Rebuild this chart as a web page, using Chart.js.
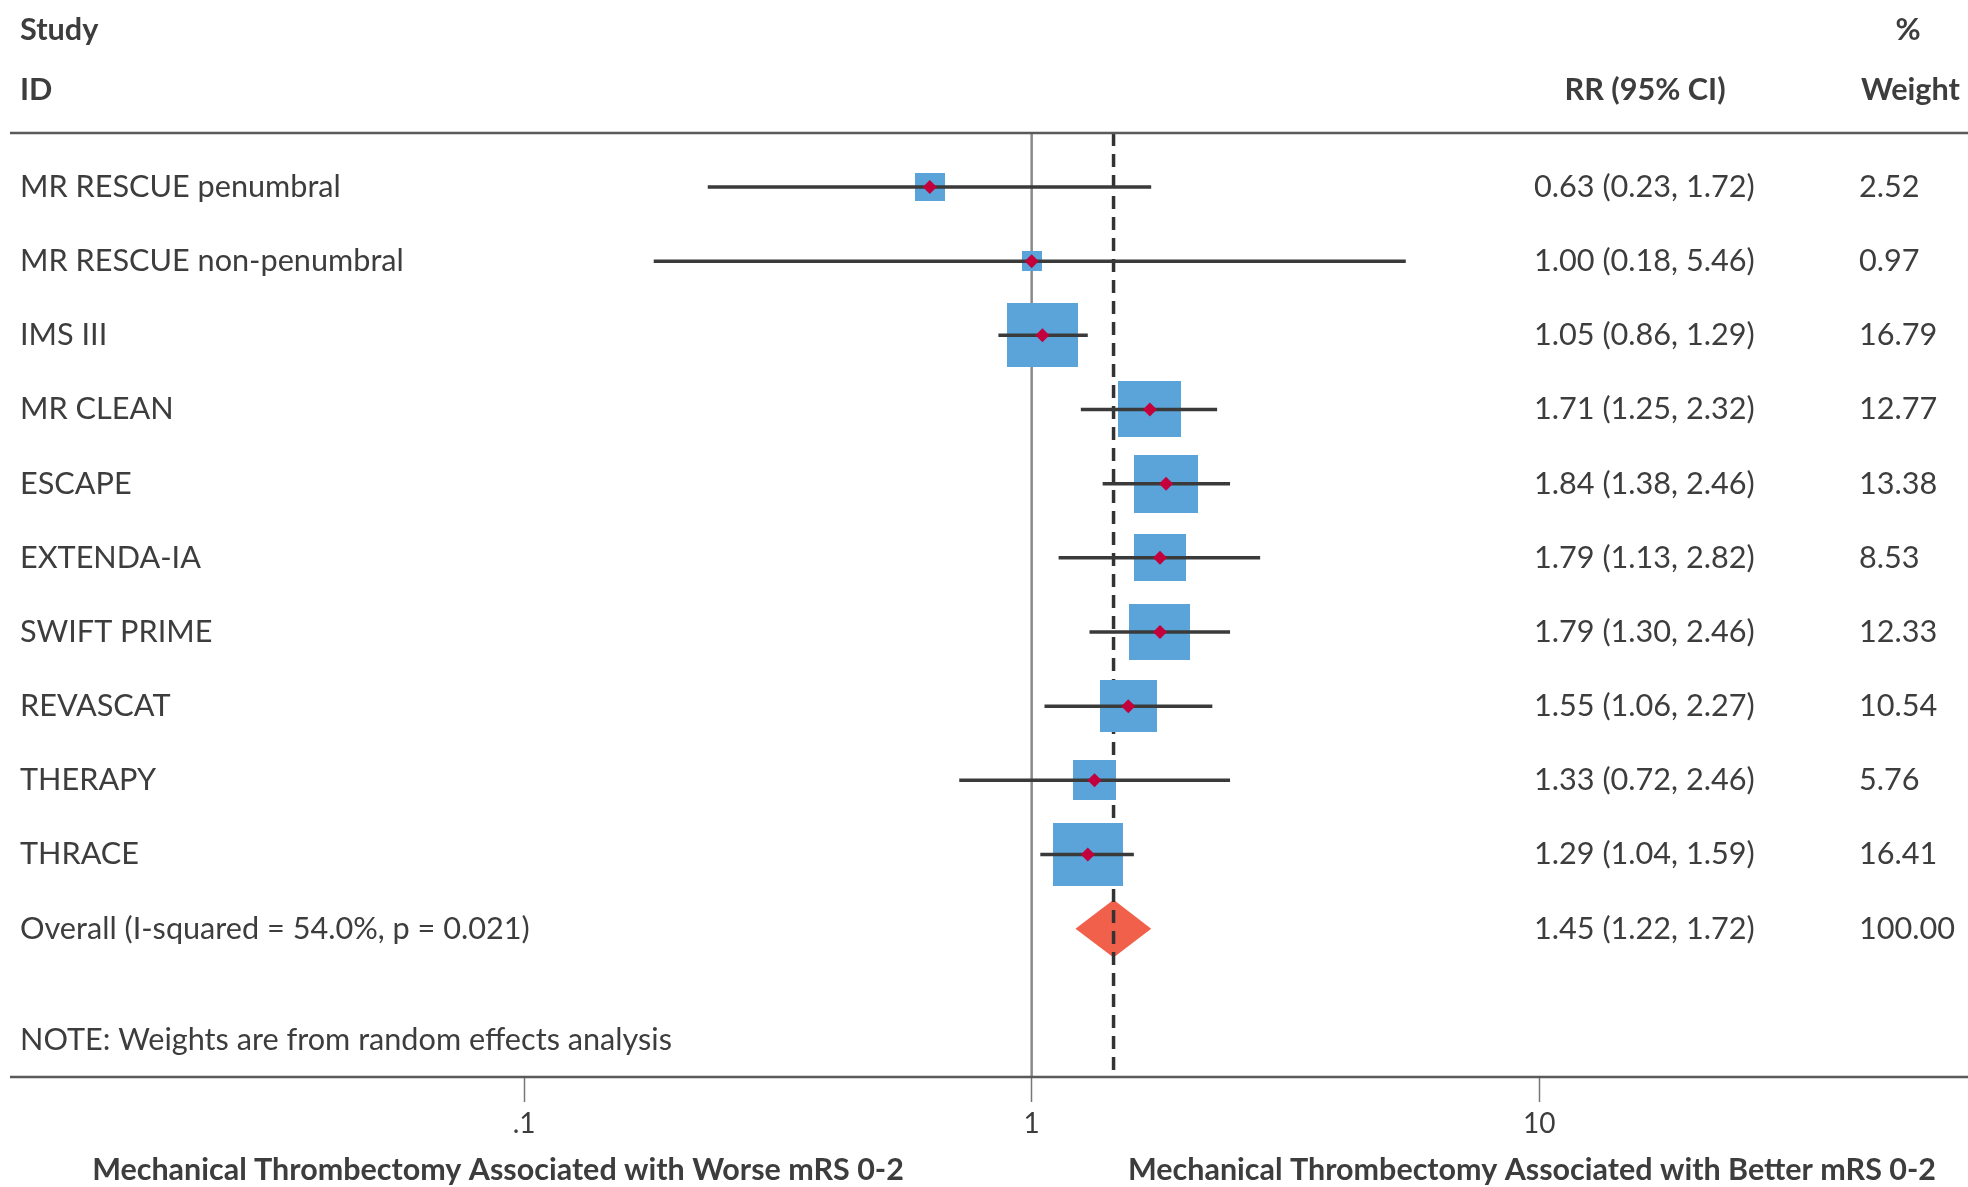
<!DOCTYPE html>
<html>
<head>
<meta charset="utf-8">
<script src="https://cdn.jsdelivr.net/npm/chart.js@4.4.1/dist/chart.umd.min.js"></script>
<style>
  html, body { margin: 0; padding: 0; background: #fff; overflow: hidden; }
  #wrap { position: relative; width: 1968px; height: 1187px; }
</style>
</head>
<body>
<div id="wrap"><canvas id="forest" width="1968" height="1187"></canvas></div>
<script>
// ─────────────────────────────────────────
// DATA
// ─────────────────────────────────────────

const studies = [
  'MR RESCUE penumbral',
  'MR RESCUE non-penumbral',
  'IMS III',
  'MR CLEAN',
  'ESCAPE',
  'EXTENDA-IA',
  'SWIFT PRIME',
  'REVASCAT',
  'THERAPY',
  'THRACE',
];
const rr     = [0.63, 1.00, 1.05, 1.71, 1.84, 1.79, 1.79, 1.55, 1.33, 1.29];
const ciLow  = [0.23, 0.18, 0.86, 1.25, 1.38, 1.13, 1.30, 1.06, 0.72, 1.04];
const ciHigh = [1.72, 5.46, 1.29, 2.32, 2.46, 2.82, 2.46, 2.27, 2.46, 1.59];
const weights = [2.52, 0.97, 16.79, 12.77, 13.38, 8.53, 12.33, 10.54, 5.76, 16.41];

const overallLabel = 'Overall (I-squared = 54.0%, p = 0.021)';
const overallRR = 1.45;
const overallLow = 1.22;
const overallHigh = 1.72;
const overallWeight = 100.00;

const xTicks = [0.1, 1, 10];
const xTickLabels = ['.1', '1', '10'];

const noteText = 'NOTE: Weights are from random effects analysis';
const leftTitle = 'Mechanical Thrombectomy Associated with Worse mRS 0-2';
const rightTitle = 'Mechanical Thrombectomy Associated with Better mRS 0-2';

// ─────────────────────────────────────────
// STYLE
// ─────────────────────────────────────────

const TEXT = '#3d3d3d';
const RULE = '#5a5a5a';
const BOX_BLUE = '#5BA4D9';
const POINT_RED = '#C3003C';
const DIAMOND = '#F0604A';
const Y_MIN = -0.728, Y_MAX = 12.0;
const DIAMOND_HALF = 0.39;

function hasFont(name) {
  const c = document.createElement('canvas').getContext('2d');
  const s = 'MR RESCUE non-penumbral 0123';
  c.font = '40px monospace';
  const a = c.measureText(s).width;
  c.font = `40px "${name}", monospace`;
  return c.measureText(s).width !== a;
}
const FONT = ['Lato', 'Open Sans', 'Noto Sans'].find(hasFont) || 'sans-serif';

// pick sizes so text widths match the reference
function fitSize(text, target, weight) {
  const c = document.createElement('canvas').getContext('2d');
  c.font = `${weight} 100px "${FONT}"`;
  return Math.min(32, 100 * target / c.measureText(text).width);
}
const BODY = fitSize('MR RESCUE non-penumbral', 384, 'normal');
const TITLE = fitSize(leftTitle, 812, 'bold');

// blue boxes, size from the study weight
function boxImage(w) {
  const c = document.createElement('canvas');
  c.width = Math.round(3.9 + 16.4 * Math.sqrt(w));
  c.height = Math.round(6 + 14.1 * Math.sqrt(w));
  const g = c.getContext('2d');
  g.fillStyle = BOX_BLUE;
  g.fillRect(0, 0, c.width, c.height);
  return c;
}

const ciPoints = [];
rr.forEach((v, i) => {
  ciPoints.push({ x: ciLow[i], y: i }, { x: ciHigh[i], y: i }, { x: ciHigh[i], y: null });
});

// ─────────────────────────────────────────
// TEXT PLUGIN
// ─────────────────────────────────────────

const tablePlugin = {
  id: 'table',
  afterDraw(chart) {
    const { ctx, chartArea, scales } = chart;
    const y = scales.y;
    ctx.save();
    ctx.fillStyle = TEXT;
    ctx.textBaseline = 'middle';

    // header
    ctx.font = `bold ${BODY}px "${FONT}"`;
    ctx.textAlign = 'left';
    ctx.fillText('Study', 20, 30);
    ctx.fillText('ID', 20, 90);
    ctx.textAlign = 'center';
    ctx.fillText('%', 1908, 30);
    ctx.fillText('RR (95% CI)', 1645, 90);
    ctx.textAlign = 'right';
    ctx.fillText('Weight', 1960, 90);

    // header rule and axis rule
    ctx.strokeStyle = RULE;
    ctx.lineWidth = 2.5;
    ctx.beginPath();
    ctx.moveTo(10, chartArea.top);
    ctx.lineTo(1968, chartArea.top);
    ctx.moveTo(10, chartArea.bottom);
    ctx.lineTo(1968, chartArea.bottom);
    ctx.stroke();

    // rows
    ctx.font = `${BODY}px "${FONT}"`;
    ctx.textAlign = 'left';
    studies.forEach((s, i) => {
      const py = y.getPixelForValue(i);
      ctx.fillText(s, 20, py);
      ctx.fillText(`${rr[i].toFixed(2)} (${ciLow[i].toFixed(2)}, ${ciHigh[i].toFixed(2)})`, 1534, py);
      ctx.fillText(weights[i].toFixed(2), 1859, py);
    });
    const oy = y.getPixelForValue(studies.length);
    ctx.fillText(overallLabel, 20, oy);
    ctx.fillText(`${overallRR.toFixed(2)} (${overallLow.toFixed(2)}, ${overallHigh.toFixed(2)})`, 1534, oy);
    ctx.fillText(overallWeight.toFixed(2), 1859, oy);
    ctx.fillText(noteText, 20, y.getPixelForValue(studies.length + 1.5));

    // bottom titles
    ctx.font = `bold ${TITLE}px "${FONT}"`;
    ctx.textAlign = 'center';
    ctx.fillText(leftTitle, 498, 1170);
    ctx.fillText(rightTitle, 1532, 1170);
    ctx.restore();
  },
};

// ─────────────────────────────────────────
// CHART
// ─────────────────────────────────────────

new Chart(document.getElementById('forest'), {
  type: 'scatter',
  data: {
    datasets: [
      {
        // point estimates
        data: rr.map((v, i) => ({ x: v, y: i })),
        pointStyle: 'rectRot',
        pointRadius: 7,
        pointBorderWidth: 0,
        pointBackgroundColor: POINT_RED,
        order: 0,
      },
      {
        type: 'line',
        data: ciPoints,
        borderColor: '#3a3a3a',
        borderWidth: 3.5,
        pointRadius: 0,
        spanGaps: false,
        order: 1,
      },
      {
        data: rr.map((v, i) => ({ x: v, y: i })),
        pointStyle: weights.map(boxImage),
        pointRadius: 10,
        order: 2,
      },
      {
        type: 'line',
        data: [{ x: overallRR, y: Y_MIN }, { x: overallRR, y: Y_MAX }],
        borderColor: '#333',
        borderWidth: 3.5,
        borderDash: [13, 8],
        pointRadius: 0,
        order: 3,
      },
      {
        type: 'line',
        data: [
          { x: overallLow, y: studies.length },
          { x: overallRR, y: studies.length - DIAMOND_HALF },
          { x: overallHigh, y: studies.length },
          { x: overallRR, y: studies.length + DIAMOND_HALF },
          { x: overallLow, y: studies.length },
        ],
        borderWidth: 0,
        borderColor: DIAMOND,
        backgroundColor: DIAMOND,
        fill: 'shape',
        pointRadius: 0,
        tension: 0,
        order: 4,
      },
      {
        type: 'line',
        data: [{ x: 1, y: Y_MIN }, { x: 1, y: Y_MAX }],
        borderColor: '#8a8a8a',
        borderWidth: 2.5,
        pointRadius: 0,
        order: 5,
      },
    ],
  },
  options: {
    responsive: false,
    animation: false,
    devicePixelRatio: 1,
    layout: { autoPadding: false, padding: { top: 133, left: 10, right: 0, bottom: 0 } },
    plugins: {
      legend: { display: false },
      title: { display: false },
      tooltip: { enabled: false },
    },
    scales: {
      x: {
        type: 'logarithmic',
        min: 0.0097,
        max: 70,
        bounds: 'data',
        afterBuildTicks: (scale) => { scale.ticks = xTicks.map(v => ({ value: v })); },
        afterFit: (scale) => {
          scale.height = 110;
          scale.paddingLeft = 0;
          scale.paddingRight = 0;
        },
        border: { display: false },
        grid: { drawOnChartArea: false, drawTicks: true, tickLength: 25, tickColor: '#777', tickWidth: 1.5 },
        ticks: {
          autoSkip: false,
          maxRotation: 0,
          padding: 5,
          color: TEXT,
          font: { family: FONT, size: 28 },
          callback: (v, i) => xTickLabels[i],
        },
      },
      y: {
        type: 'linear',
        display: false,
        reverse: true,
        min: Y_MIN,
        max: Y_MAX,
      },
    },
  },
  plugins: [tablePlugin],
});
</script>
</body>
</html>
